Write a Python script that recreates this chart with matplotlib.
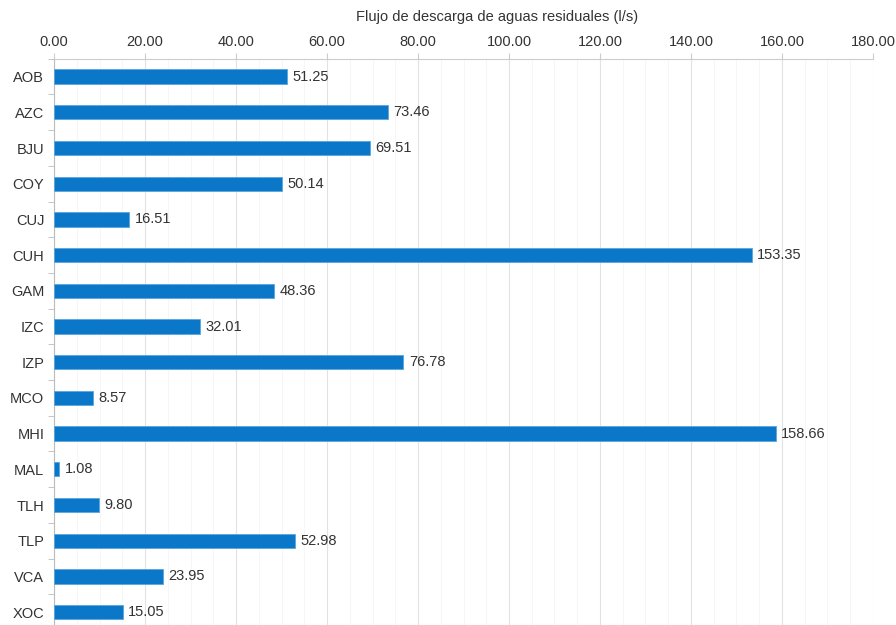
import numpy as np
import matplotlib.pyplot as plt
from matplotlib.ticker import MultipleLocator, FormatStrFormatter, FixedLocator

plt.rcParams['font.family'] = ['Liberation Sans', 'DejaVu Sans']

categorias = ["AOB", "AZC", "BJU", "COY", "CUJ", "CUH", "GAM", "IZC",
              "IZP", "MCO", "MHI", "MAL", "TLH", "TLP", "VCA", "XOC"]
flujo = [51.25, 73.46, 69.51, 50.14, 16.51, 153.35, 48.36, 32.01,
         76.78, 8.57, 158.66, 1.08, 9.80, 52.98, 23.95, 15.05]
titulo = "Flujo de descarga de aguas residuales (l/s)"

color_barra = "#0a77c9"
color_texto = "#333333"
tam = 10.5

fig = plt.figure(figsize=(8.96, 6.25), dpi=100)
ax = fig.add_axes([0.0603, -0.008, 0.914, 0.914])

y = np.arange(len(categorias))
ax.barh(y, flujo, height=0.4, color=color_barra, edgecolor="#5aa6de", linewidth=0.6, zorder=3)
for yi, v in zip(y, flujo):
    ax.text(v + 1.2, yi, f"{v:.2f}", va="center", ha="left", fontsize=tam, color=color_texto)

ax.set_ylim(len(categorias) - 0.5, -0.5)
ax.set_yticks(y)
ax.set_yticklabels(categorias, fontsize=tam, color=color_texto)
ax.yaxis.set_minor_locator(FixedLocator(np.arange(-0.5, len(categorias), 1)))
ax.tick_params(axis="y", which="major", length=0, pad=7)
ax.tick_params(axis="y", which="minor", length=4, color="#bbbbbb")

ax.set_xlim(0, 180)
ax.xaxis.tick_top()
ax.xaxis.set_label_position("top")
ax.xaxis.set_major_locator(MultipleLocator(20))
ax.xaxis.set_minor_locator(MultipleLocator(5))
ax.xaxis.set_major_formatter(FormatStrFormatter("%.2f"))
ax.tick_params(axis="x", which="major", labelsize=tam, labelcolor=color_texto, length=4, color="#cccccc", pad=3)
ax.tick_params(axis="x", which="minor", length=0)
ax.set_xlabel(titulo, fontsize=tam, color=color_texto)
ax.xaxis.set_label_coords(0.541, 1.0736)
ax.xaxis.label.set_verticalalignment("center")

ax.grid(axis="x", which="major", color="#e2e2e2", linewidth=0.8, zorder=0)
ax.grid(axis="x", which="minor", color="#f5f5f5", linewidth=0.6, zorder=0)

for s in ["right", "bottom"]:
    ax.spines[s].set_visible(False)
ax.spines["left"].set_color("#bbbbbb")
ax.spines["top"].set_color("#cccccc")

fig.savefig("out.png", dpi=100)
